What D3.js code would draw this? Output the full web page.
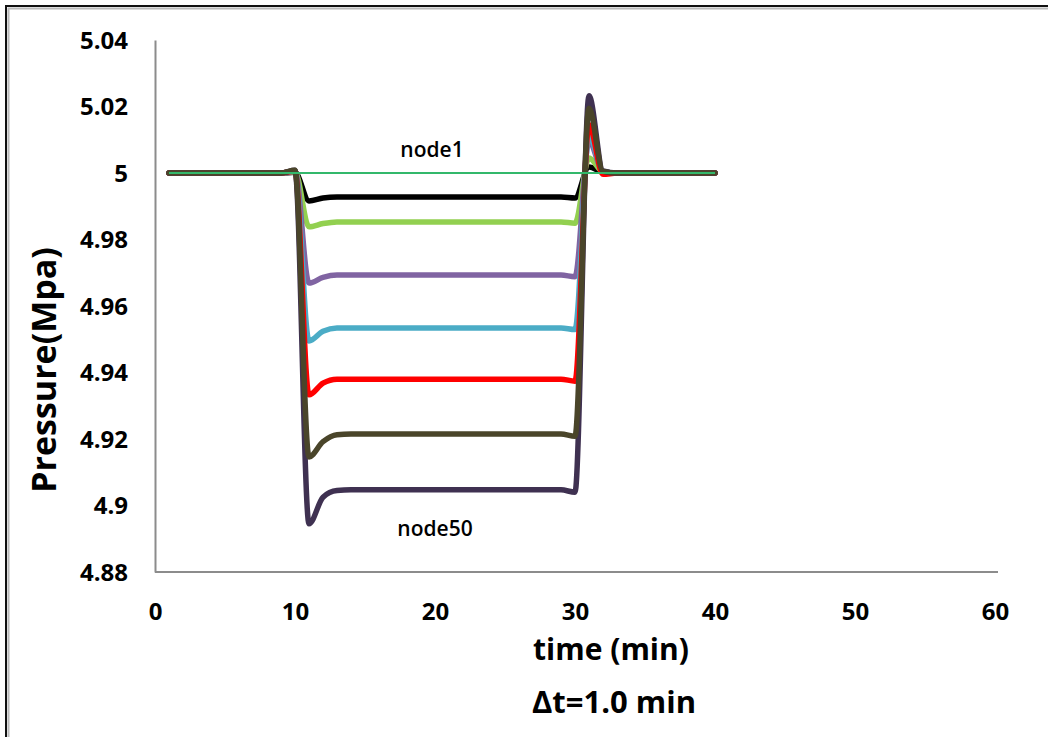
<!DOCTYPE html>
<html><head><meta charset="utf-8">
<script src="https://cdn.jsdelivr.net/npm/d3@7"></script>
<style>body{margin:0;background:#fff}svg{display:block}</style>
</head><body>
<svg id="c" width="1048" height="737"></svg>
<script>
const time = d3.range(1, 41);
const xTicks = [0, 10, 20, 30, 40, 50, 60];
const yTicks = [4.88, 4.9, 4.92, 4.94, 4.96, 4.98, 5, 5.02, 5.04];
const yTickLabels = ["4.88", "4.9", "4.92", "4.94", "4.96", "4.98", "5", "5.02", "5.04"];
const seriesNames = ["node10", "node20", "node30", "node40", "node45", "node50", "node48"];
const seriesColors = ["#000000", "#92d050", "#8064a2", "#4bacc6", "#ff0000", "#3f3151", "#4a452a"];
// values at t = 1..40
const s1 = [5,5,5,5,5,5,5,5,5,5.0002,4.9916,4.9925,4.9928,4.9928,4.9928,4.9928,4.9928,4.9928,4.9928,4.9928,4.9928,4.9928,4.9928,4.9928,4.9928,4.9928,4.9928,4.9928,4.9928,4.9925,5.0018,5.0002,5,5,5,5,5,5,5,5];
const s2 = [5,5,5,5,5,5,5,5,5,5.0004,4.9838,4.9848,4.9853,4.9853,4.9853,4.9853,4.9853,4.9853,4.9853,4.9853,4.9853,4.9853,4.9853,4.9853,4.9853,4.9853,4.9853,4.9853,4.9853,4.9849,5.0045,5.0003,5,5,5,5,5,5,5,5];
const s3 = [5,5,5,5,5,5,5,5,5,5.0005,4.9669,4.9686,4.9693,4.9693,4.9693,4.9693,4.9693,4.9693,4.9693,4.9693,4.9693,4.9693,4.9693,4.9693,4.9693,4.9693,4.9693,4.9693,4.9693,4.9688,5.0095,5.0004,5,5,5,5,5,5,5,5];
const s4 = [5,5,5,5,5,5,5,5,5,5.0006,4.9495,4.9524,4.9534,4.9534,4.9534,4.9534,4.9534,4.9534,4.9534,4.9534,4.9534,4.9534,4.9534,4.9534,4.9534,4.9534,4.9534,4.9534,4.9534,4.9529,5.0112,5.0004,5,5,5,5,5,5,5,5];
const s5 = [5,5,5,5,5,5,5,5,5,5.0006,4.9333,4.9368,4.938,4.938,4.938,4.938,4.938,4.938,4.938,4.938,4.938,4.938,4.938,4.938,4.938,4.938,4.938,4.938,4.938,4.9374,5.0145,4.9996,5,5,5,5,5,5,5,5];
const s6 = [5,5,5,5,5,5,5,5,5,5.0008,4.8945,4.9025,4.9045,4.9047,4.9047,4.9047,4.9047,4.9047,4.9047,4.9047,4.9047,4.9047,4.9047,4.9047,4.9047,4.9047,4.9047,4.9047,4.9047,4.904,5.0232,5.0006,5,5,5,5,5,5,5,5];
const s7 = [5,5,5,5,5,5,5,5,5,5.0008,4.9146,4.9192,4.9213,4.9215,4.9215,4.9215,4.9215,4.9215,4.9215,4.9215,4.9215,4.9215,4.9215,4.9215,4.9215,4.9215,4.9215,4.9215,4.9215,4.9208,5.0195,5.0005,5,5,5,5,5,5,5,5];
const node1 = time.map(() => 5);
const series = [s1, s2, s3, s4, s5, s6, s7];

const svg = d3.select("#c");
const x = d3.scaleLinear().domain([0, 60]).range([155, 995]);
const y = d3.scaleLinear().domain([4.88, 5.04]).range([572, 40]);

// frame
svg.append("rect").attr("x", 6).attr("y", 6).attr("width", 1100).attr("height", 1000)
  .attr("fill", "none").attr("stroke", "#111").attr("stroke-width", 2);
svg.append("rect").attr("x", 8.5).attr("y", 8.5).attr("width", 1100).attr("height", 1000)
  .attr("fill", "none").attr("stroke", "#bbb").attr("stroke-width", 2);

const font = "'Open Sans', 'DejaVu Sans', sans-serif";

// axes
const xAxis = svg.append("g").attr("transform", `translate(0,${y(4.88)})`)
  .call(d3.axisBottom(x).tickValues(xTicks).tickSize(0).tickPadding(0).tickFormat(d3.format("d")));
const yAxis = svg.append("g").attr("transform", `translate(${x(0)},0)`)
  .call(d3.axisLeft(y).tickValues(yTicks).tickSize(0).tickPadding(0).tickFormat((d, i) => yTickLabels[i]));
[xAxis, yAxis].forEach(g => {
  g.select(".domain").attr("stroke", "#8c8c8c").attr("stroke-width", 2);
  g.selectAll("text").attr("font-family", font).attr("font-weight", 700)
    .attr("font-size", 24).attr("fill", "#000");
});
xAxis.select(".domain").attr("d", `M${x(0)},0H${x(60) + 3}`);
xAxis.selectAll("text").attr("y", 48).attr("dy", 0);
yAxis.selectAll("text").attr("x", -27).attr("dy", "0.35em");

// lines
const line = d3.line().x((d, i) => x(time[i])).y(d => y(d)).curve(d3.curveMonotoneX);
series.forEach((s, k) => {
  svg.append("path").datum(s).attr("d", line).attr("fill", "none")
    .attr("stroke", seriesColors[k]).attr("stroke-width", 5.5)
    .attr("stroke-linecap", "round").attr("stroke-linejoin", "round");
});
svg.append("path").datum(node1).attr("d", line).attr("fill", "none")
  .attr("stroke", "#33b86b").attr("stroke-width", 2);

// labels
svg.append("text").attr("x", 432).attr("y", 157).attr("text-anchor", "middle")
  .attr("font-family", font).attr("font-weight", 600).attr("font-size", 21).text("node1");
svg.append("text").attr("x", 435).attr("y", 536).attr("text-anchor", "middle")
  .attr("font-family", font).attr("font-weight", 600).attr("font-size", 21).text("node50");
svg.append("text").attr("x", 611).attr("y", 660).attr("text-anchor", "middle")
  .attr("font-family", font).attr("font-weight", 700).attr("font-size", 30).text("time (min)");
svg.append("text").attr("x", 614).attr("y", 713).attr("text-anchor", "middle")
  .attr("font-family", font).attr("font-weight", 700).attr("font-size", 31).text("Δt=1.0 min");
svg.append("text").attr("transform", "translate(56,370) rotate(-90)").attr("text-anchor", "middle")
  .attr("font-family", font).attr("font-weight", 700).attr("font-size", 34).text("Pressure(Mpa)");
</script>
</body></html>
